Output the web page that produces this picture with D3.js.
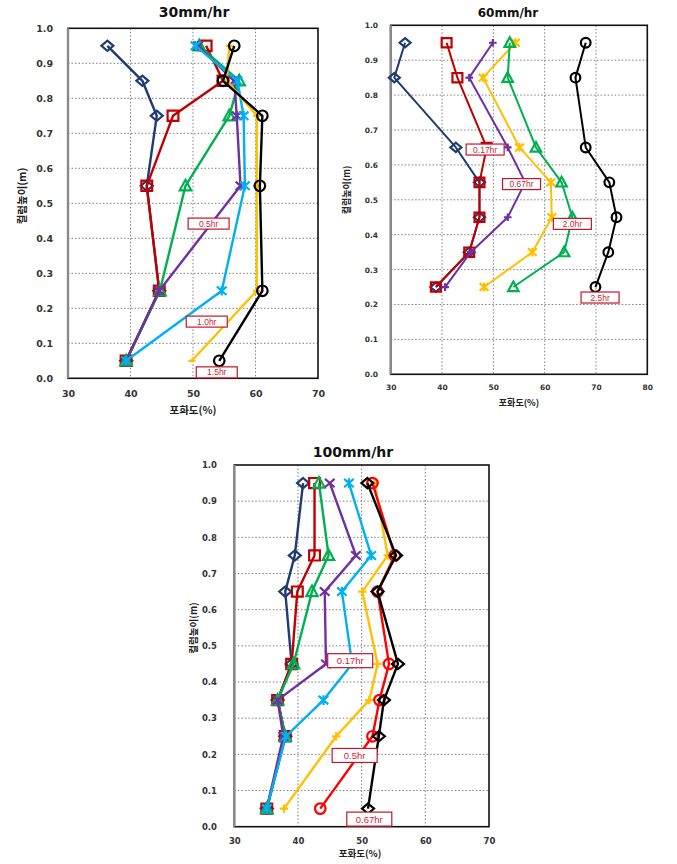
<!DOCTYPE html>
<html>
<head>
<meta charset="utf-8">
<script src="https://cdn.jsdelivr.net/npm/d3@7"></script>
<style>
  html, body { margin: 0; padding: 0; background: #fff; }
  svg { display: block; }
</style>
</head>
<body>
<svg id="chart" width="677" height="864"></svg>
<script>
// ---------------- DATA ----------------
const yTicks = [0.0, 0.1, 0.2, 0.3, 0.4, 0.5, 0.6, 0.7, 0.8, 0.9, 1.0];
const xTicks30 = [30, 40, 50, 60, 70];
const xTicks60 = [30, 40, 50, 60, 70, 80];
const xTicks100 = [30, 40, 50, 60, 70];

// 30mm/hr
const heights30 = [0.95, 0.85, 0.75, 0.55, 0.25, 0.05];
const navy30   = [36.3, 41.9, 44.2, 42.6, 44.6, 39.3];
const red30    = [52.1, 54.8, 46.8, 42.6, 44.6, 39.3];
const green30  = [51.0, 57.4, 55.8, 48.8, 44.7, 39.3];
const purple30 = [50.8, 56.6, 57.0, 57.6, 44.6, 39.3];
const blue30   = [50.4, 57.1, 58.1, 58.3, 54.6, 39.3];
const orange30 = [55.8, 55.4, 60.2, 60.2, 60.2, 49.8];
const black30  = [56.6, 54.8, 61.1, 60.7, 61.1, 54.2];
const labels30 = ["0.5hr", "1.0hr", "1.5hr"];
const labelX30 = [52.5, 52.2, 53.8];
const labelY30 = [0.442, 0.162, 0.017];

// 60mm/hr
const heights60 = [0.95, 0.85, 0.65, 0.55, 0.45, 0.35, 0.25];
const navy60   = [32.8, 30.7, 42.7, 47.3, 47.3, 45.3, 38.8];
const red60    = [40.9, 43.0, 48.7, 47.3, 47.3, 45.3, 38.8];
const purple60 = [49.9, 45.3, 52.8, 56.2, 52.8, 45.6, 40.6];
const orange60 = [54.3, 48.0, 55.1, 61.2, 61.4, 57.6, 48.2];
const green60  = [53.2, 52.8, 58.3, 63.3, 65.4, 63.8, 53.9];
const black60  = [68.0, 66.0, 68.0, 72.6, 74.0, 72.4, 69.9];
const labels60 = ["0.17hr", "0.67hr", "2.0hr", "2.5hr"];
const labelX60 = [48.4, 55.5, 65.4, 70.8];
const labelY60 = [0.644, 0.545, 0.431, 0.22];

// 100mm/hr
const heights100 = [0.95, 0.75, 0.65, 0.45, 0.35, 0.25, 0.05];
const navy100   = [40.8, 39.5, 38.0, 39.0, 36.8, 38.0, 35.1];
const red100    = [42.6, 42.6, 39.9, 39.0, 36.8, 38.0, 35.1];
const green100  = [43.3, 44.8, 42.2, 39.3, 36.8, 38.0, 35.1];
const purple100 = [45.0, 49.1, 44.2, 44.4, 36.8, 37.7, 35.1];
const blue100   = [48.0, 51.5, 46.9, 48.5, 44.0, 38.1, 35.1];
const orange100 = [52.0, 54.1, 50.1, 52.5, 51.2, 46.0, 37.8];
const redc100   = [51.7, 55.2, 52.5, 54.3, 52.8, 51.7, 43.5];
const black100  = [50.9, 55.4, 52.5, 55.7, 53.5, 52.7, 51.0];
const labels100 = ["0.17hr", "0.5hr", "0.67hr"];
const labelX100 = [48.2, 48.9, 51.2];
const labelY100 = [0.459, 0.197, 0.021];

const titles = ["30mm/hr", "60mm/hr", "100mm/hr"];
const yTitle = "컬럼높이(m)";
const xTitle = "포화도(%)";

// ---------------- STYLE / LAYOUT ----------------
const C = {
  navy: "#1F3B73", red: "#C00000", green: "#00B050", purple: "#7030A0",
  blue: "#00B0F0", orange: "#FFC000", black: "#000000", bred: "#FF0000"
};

const charts = [
  {
    title: titles[0], left: 68, right: 318, top: 28.3, bottom: 378.3,
    xDomain: [30, 70], xTicks: xTicks30, heights: heights30,
    titleX: 194, titleY: 17, titleSize: 14,
    tickSize: 9.5, yLabX: 53, xLabY: 397,
    yTitleX: 23, yTitleY: 196, xTitleX: 193, xTitleY: 414, axisTitleSize: 10.5,
    lw: 2.4, ms: 12,
    series: [
      {v: navy30, c: C.navy, m: "diamond"},
      {v: red30, c: C.red, m: "square"},
      {v: green30, c: C.green, m: "triangle"},
      {v: purple30, c: C.purple, m: "star"},
      {v: blue30, c: C.blue, m: "star"},
      {v: orange30, c: C.orange, m: "dash"},
      {v: black30, c: C.black, m: "circle"}
    ],
    labels: labels30, lx: labelX30, ly: labelY30, boxW: 41, boxH: 11, labSize: 8.5
  },
  {
    title: titles[1], left: 390.7, right: 647.3, top: 25.3, bottom: 374.3,
    xDomain: [30, 80], xTicks: xTicks60, heights: heights60,
    titleX: 508, titleY: 17, titleSize: 12,
    tickSize: 7.5, yLabX: 378, xLabY: 390,
    yTitleX: 348, yTitleY: 190, xTitleX: 519, xTitleY: 406, axisTitleSize: 9,
    lw: 2, ms: 11,
    series: [
      {v: navy60, c: C.navy, m: "diamond"},
      {v: red60, c: C.red, m: "square"},
      {v: purple60, c: C.purple, m: "plus"},
      {v: orange60, c: C.orange, m: "star"},
      {v: green60, c: C.green, m: "triangle"},
      {v: black60, c: C.black, m: "circle"}
    ],
    labels: labels60, lx: labelX60, ly: labelY60, boxW: 38, boxH: 11, labSize: 8.5
  },
  {
    title: titles[2], left: 234.3, right: 489, top: 465, bottom: 826.7,
    xDomain: [30, 70], xTicks: xTicks100, heights: heights100,
    titleX: 353, titleY: 457, titleSize: 14,
    tickSize: 8.5, yLabX: 217, xLabY: 844,
    yTitleX: 194, yTitleY: 628, xTitleX: 360, xTitleY: 857, axisTitleSize: 9.5,
    lw: 2.4, ms: 12,
    series: [
      {v: navy100, c: C.navy, m: "diamond"},
      {v: red100, c: C.red, m: "square"},
      {v: green100, c: C.green, m: "triangle"},
      {v: purple100, c: C.purple, m: "x"},
      {v: blue100, c: C.blue, m: "star"},
      {v: orange100, c: C.orange, m: "plus"},
      {v: redc100, c: C.bred, m: "circle"},
      {v: black100, c: C.black, m: "diamond"}
    ],
    labels: labels100, lx: labelX100, ly: labelY100, boxW: 45, boxH: 14, labSize: 9.5
  }
];

// ---------------- DRAW ----------------
const svg = d3.select("#chart");
const tickFont = "'DejaVu Sans', Verdana, sans-serif";
const krFont = "'Noto Sans CJK KR', 'Noto Sans', sans-serif";

function markerPath(type, s) {
  const h = s / 2;
  const p = d3.path();
  switch (type) {
    case "diamond":
      p.moveTo(0, -h * 0.85); p.lineTo(h, 0); p.lineTo(0, h * 0.85); p.lineTo(-h, 0); p.closePath(); break;
    case "square":
      p.rect(-h * 0.9, -h * 0.85, s * 0.9, s * 0.85); break;
    case "triangle":
      p.moveTo(0, -h); p.lineTo(h * 0.95, h * 0.75); p.lineTo(-h * 0.95, h * 0.75); p.closePath(); break;
    case "circle":
      p.arc(0, 0, h * 0.88, 0, 2 * Math.PI); p.closePath(); break;
    case "x":
      p.moveTo(-h * 0.8, -h * 0.7); p.lineTo(h * 0.8, h * 0.7);
      p.moveTo(h * 0.8, -h * 0.7); p.lineTo(-h * 0.8, h * 0.7); break;
    case "star":
      p.moveTo(-h * 0.8, -h * 0.7); p.lineTo(h * 0.8, h * 0.7);
      p.moveTo(h * 0.8, -h * 0.7); p.lineTo(-h * 0.8, h * 0.7);
      p.moveTo(0, -h * 0.8); p.lineTo(0, h * 0.8); break;
    case "plus":
      p.moveTo(-h * 0.7, 0); p.lineTo(h * 0.7, 0);
      p.moveTo(0, -h * 0.7); p.lineTo(0, h * 0.7); break;
    case "dash":
      p.moveTo(-h * 0.6, 0); p.lineTo(h * 0.6, 0);
      p.moveTo(0, -h * 0.3); p.lineTo(0, h * 0.3); break;
  }
  return p.toString();
}

charts.forEach(cfg => {
  const x = d3.scaleLinear().domain(cfg.xDomain).range([cfg.left, cfg.right]);
  const y = d3.scaleLinear().domain([0, 1]).range([cfg.bottom, cfg.top]);
  const g = svg.append("g");

  // gridlines
  g.append("g").selectAll("line.hg")
    .data(yTicks.filter(t => t > 0 && t < 1))
    .join("line")
    .attr("x1", cfg.left).attr("x2", cfg.right)
    .attr("y1", d => y(d)).attr("y2", d => y(d))
    .attr("stroke", "#7f7f7f").attr("stroke-width", 1).attr("stroke-dasharray", "1.5,2");
  g.append("g").selectAll("line.vg")
    .data(cfg.xTicks.filter(t => t > cfg.xDomain[0] && t < cfg.xDomain[1]))
    .join("line")
    .attr("y1", cfg.top).attr("y2", cfg.bottom)
    .attr("x1", d => x(d)).attr("x2", d => x(d))
    .attr("stroke", "#7f7f7f").attr("stroke-width", 1).attr("stroke-dasharray", "1.5,2");

  // plot border
  g.append("rect")
    .attr("x", cfg.left).attr("y", cfg.top)
    .attr("width", cfg.right - cfg.left).attr("height", cfg.bottom - cfg.top)
    .attr("fill", "none").attr("stroke", "#111").attr("stroke-width", 1.6);
  g.append("line")
    .attr("x1", cfg.left).attr("x2", cfg.left).attr("y1", cfg.top).attr("y2", cfg.bottom)
    .attr("stroke", "#8a8a8a").attr("stroke-width", 2.4);

  // axes with d3
  const yAxis = d3.axisLeft(y).tickValues(yTicks).tickFormat(d3.format(".1f")).tickSize(0).tickPadding(0);
  const ya = g.append("g").attr("transform", `translate(${cfg.yLabX},0)`).call(yAxis);
  ya.select(".domain").remove();
  ya.selectAll("text").attr("font-family", tickFont).attr("font-weight", "bold")
    .attr("font-size", cfg.tickSize).attr("fill", "#333").attr("x", 0);

  const xAxis = d3.axisBottom(x).tickValues(cfg.xTicks).tickFormat(d3.format("d")).tickSize(0).tickPadding(0);
  const xa = g.append("g").attr("transform", `translate(0,${cfg.xLabY - cfg.tickSize * 0.75})`).call(xAxis);
  xa.select(".domain").remove();
  xa.selectAll("text").attr("font-family", tickFont).attr("font-weight", "bold")
    .attr("font-size", cfg.tickSize).attr("fill", "#333").attr("dy", "0.75em").attr("y", 0);

  // titles
  g.append("text").attr("x", cfg.titleX).attr("y", cfg.titleY)
    .attr("text-anchor", "middle").attr("font-family", tickFont).attr("font-weight", "bold")
    .attr("font-size", cfg.titleSize).attr("fill", "#111").text(cfg.title);
  g.append("text").attr("transform", `translate(${cfg.yTitleX},${cfg.yTitleY}) rotate(-90)`)
    .attr("text-anchor", "middle").attr("dominant-baseline", "middle")
    .attr("font-family", krFont).attr("font-weight", "bold")
    .attr("font-size", cfg.axisTitleSize).attr("fill", "#222").text(yTitle);
  g.append("text").attr("x", cfg.xTitleX).attr("y", cfg.xTitleY)
    .attr("text-anchor", "middle")
    .attr("font-family", krFont).attr("font-weight", "bold")
    .attr("font-size", cfg.axisTitleSize).attr("fill", "#222").text(xTitle);

  // series
  const line = d3.line().x(d => x(d[0])).y(d => y(d[1]));
  cfg.series.forEach(s => {
    const pts = s.v.map((v, i) => [v, cfg.heights[i]]);
    const sg = g.append("g");
    sg.append("path").datum(pts).attr("d", line)
      .attr("fill", "none").attr("stroke", s.c).attr("stroke-width", cfg.lw)
      .attr("stroke-linejoin", "round");
    sg.selectAll("path.mk").data(pts).join("path")
      .attr("class", "mk")
      .attr("transform", d => `translate(${x(d[0])},${y(d[1])})`)
      .attr("d", markerPath(s.m, cfg.ms))
      .attr("fill", "none").attr("stroke", s.c).attr("stroke-width", 2.2);
  });

  // annotation labels
  cfg.labels.forEach((t, i) => {
    const cx = x(cfg.lx[i]), cy = y(cfg.ly[i]);
    g.append("rect").attr("x", cx - cfg.boxW / 2).attr("y", cy - cfg.boxH / 2)
      .attr("width", cfg.boxW).attr("height", cfg.boxH)
      .attr("fill", "#fff").attr("stroke", "#C0182A").attr("stroke-width", 1.2);
    g.append("text").attr("x", cx).attr("y", cy)
      .attr("text-anchor", "middle").attr("dominant-baseline", "central")
      .attr("font-family", "'Liberation Sans', Arial, sans-serif")
      .attr("font-size", cfg.labSize).attr("fill", "#D0243A").text(t);
  });
});
</script>
</body>
</html>
